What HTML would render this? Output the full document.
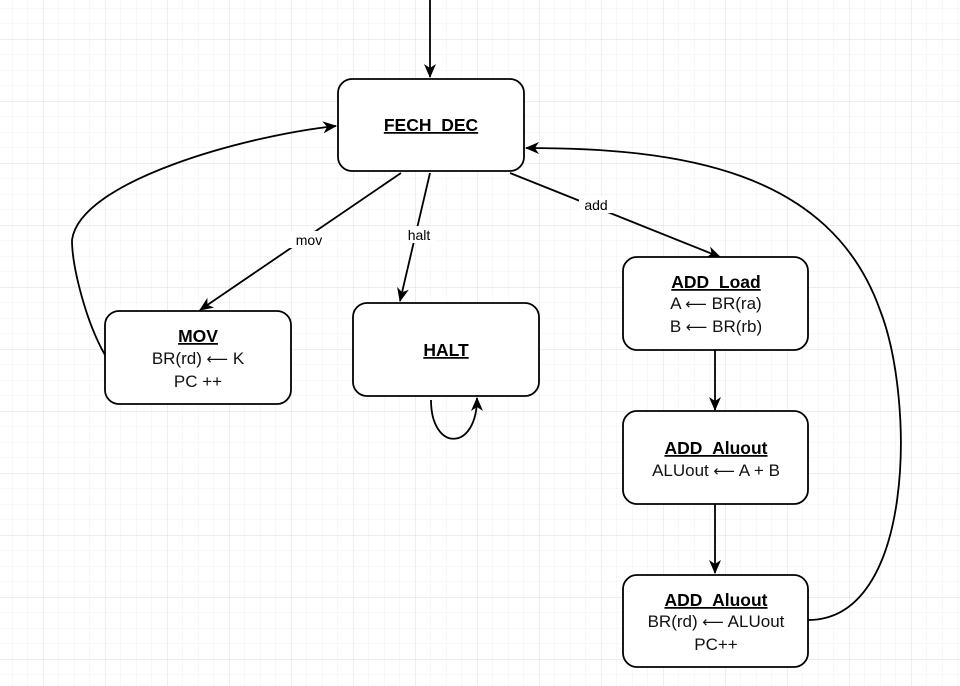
<!DOCTYPE html>
<html><head><meta charset="utf-8"><style>
html,body{margin:0;padding:0;background:#fff;}
svg{display:block;font-family:"Liberation Sans",Arial,sans-serif;}
.b{font-weight:bold;text-decoration:underline;font-size:17.5px;}
.t{font-size:17px;fill:#111;}
.l{font-size:14px;}
.ar{font-family:"DejaVu Sans",sans-serif;font-size:15px;}
</style></head><body>
<svg width="960" height="686" viewBox="0 0 960 686" xmlns="http://www.w3.org/2000/svg">
<defs>
<pattern id="mi" x="12" y="8" width="15.5" height="15.5" patternUnits="userSpaceOnUse">
<path d="M0 0H15.5M0 0V15.5" stroke="#f0f0f0" stroke-width="1" fill="none"/>
</pattern>
<pattern id="ma" x="43" y="39" width="62" height="62" patternUnits="userSpaceOnUse">
<path d="M0 0H62M0 0V62" stroke="#dedede" stroke-width="1" fill="none"/>
</pattern>
<marker id="a" markerWidth="16" markerHeight="16" refX="13" refY="7" orient="auto" markerUnits="userSpaceOnUse">
<path d="M0,1 L14,7 L0,13 L4,7 Z" fill="#000"/>
</marker>
</defs>
<rect width="960" height="686" fill="url(#mi)"/>
<rect width="960" height="686" fill="url(#ma)"/>
<g fill="none" stroke="#000" stroke-width="1.8">
<path d="M430,0 V77" marker-end="url(#a)"/>
<path d="M401,173 L200,310" marker-end="url(#a)"/>
<path d="M430,173 L400,301" marker-end="url(#a)"/>
<path d="M510,173 L720,257" marker-end="url(#a)"/>
<path d="M715,350 V410" marker-end="url(#a)"/>
<path d="M715,504 V573" marker-end="url(#a)"/>
<path d="M808,620 C915,620 915,400 880,310 C830,170 680,148 526,148" marker-end="url(#a)"/>
<path d="M105,355 C85,320 72,265 72,240 C80,180 250,135 336,126" marker-end="url(#a)"/>
<path d="M431,400 C431,452 477,452 477,398" marker-end="url(#a)"/>
</g>
<g fill="#fff" stroke="#000" stroke-width="1.8">
<rect x="338" y="79" width="186" height="92" rx="14"/>
<rect x="105" y="311" width="186" height="93" rx="14"/>
<rect x="353" y="303" width="186" height="93" rx="14"/>
<rect x="623" y="257" width="185" height="93" rx="14"/>
<rect x="623" y="411" width="185" height="93" rx="14"/>
<rect x="623" y="575" width="185" height="92" rx="14"/>
</g>
<g text-anchor="middle">
<rect x="289" y="231" width="40" height="17" fill="#fff"/>
<text x="309" y="245" class="l">mov</text>
<rect x="402" y="226" width="34" height="17" fill="#fff"/>
<text x="419" y="240" class="l">halt</text>
<rect x="579" y="196" width="34" height="17" fill="#fff"/>
<text x="596" y="210" class="l">add</text>
<text x="431" y="131" class="b">FECH_DEC</text>
<text x="198" y="342" class="b">MOV</text>
<text x="198" y="364" class="t">BR(rd) <tspan class="ar">⟵</tspan> K</text>
<text x="198" y="387" class="t">PC ++</text>
<text x="446" y="356" class="b">HALT</text>
<text x="716" y="288" class="b">ADD_Load</text>
<text x="716" y="309" class="t">A <tspan class="ar">⟵</tspan> BR(ra)</text>
<text x="716" y="332" class="t">B <tspan class="ar">⟵</tspan> BR(rb)</text>
<text x="716" y="454" class="b">ADD_Aluout</text>
<text x="716" y="476" class="t">ALUout <tspan class="ar">⟵</tspan> A + B</text>
<text x="716" y="606" class="b">ADD_Aluout</text>
<text x="716" y="627" class="t">BR(rd) <tspan class="ar">⟵</tspan> ALUout</text>
<text x="716" y="650" class="t">PC++</text>
</g>
</svg>
</body></html>
